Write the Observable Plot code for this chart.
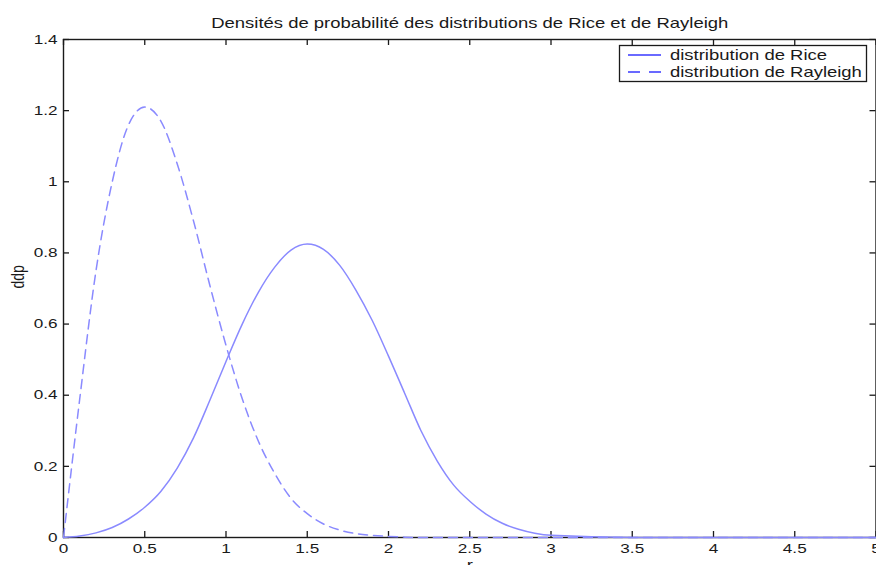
<!DOCTYPE html>
<html><head><meta charset="utf-8">
<script src="https://cdn.jsdelivr.net/npm/d3@7"></script>
<script src="https://cdn.jsdelivr.net/npm/@observablehq/plot@0.6"></script>
<style>
html,body{margin:0;padding:0;background:#fff;}
#chart{position:relative;width:876px;height:565px;overflow:hidden;}
</style></head><body><div id="chart"></div>
<script>
// ---- data ----
const rValues = [0,0.1,0.2,0.3,0.4,0.5,0.6,0.7,0.8,0.9,1.0,1.1,1.2,1.3,1.4,1.5,1.6,1.7,1.8,1.9,2.0,2.1,2.2,2.3,2.4,2.5,2.6,2.7,2.8,2.9,3.0,3.5,4.0,4.5,5.0];
const riceDensity = [0,0.004,0.013,0.028,0.052,0.085,0.13,0.195,0.28,0.385,0.495,0.6,0.69,0.76,0.808,0.825,0.81,0.765,0.695,0.61,0.51,0.405,0.3,0.215,0.148,0.102,0.066,0.04,0.023,0.012,0.006,0,0,0,0];
const rayleighDensity = [0,0.39,0.75,1.0,1.16,1.21,1.17,1.05,0.89,0.71,0.54,0.39,0.27,0.18,0.11,0.067,0.038,0.021,0.011,0.006,0.003,0.001,0,0,0,0,0,0,0,0,0,0,0,0,0];
const xTicks = [0,0.5,1,1.5,2,2.5,3,3.5,4,4.5,5];
const xTickLabels = ["0","0.5","1","1.5","2","2.5","3","3.5","4","4.5","5"];
const yTicks = [0,0.2,0.4,0.6,0.8,1,1.2,1.4];
const yTickLabels = ["0","0.2","0.4","0.6","0.8","1","1.2","1.4"];
const seriesNames = ["distribution de Rice","distribution de Rayleigh"];
const titleText = "Densités de probabilité des distributions de Rice et de Rayleigh";
const xLabel = "r";
const yLabel = "ddp";

// ---- layout / style ----
const W = 876, H = 565, mL = 63, mR = 0.5, mT = 39, mB = 28;
const plotW = W - mL - mR, plotH = H - mT - mB;
const ink = "#1a1a1a";
const curveColor = "#8a8aff";
const legendColor = "#3838ff";
const stretch = 1.32;

const table = rValues.map((r, i) => ({r, rice: riceDensity[i], rayleigh: rayleighDensity[i]}));

const chart = Plot.plot({
  width: W, height: H,
  marginLeft: mL, marginRight: mR, marginTop: mT, marginBottom: mB,
  style: {fontFamily: "'Liberation Sans', Arial, sans-serif", fontSize: "13px", color: ink, background: "#fff"},
  x: {domain: [0, 5]},
  y: {domain: [0, 1.4]},
  marks: [
    Plot.axisX(xTicks, {tickSize: 0, tickPadding: 6, tickFormat: d => xTickLabels[xTicks.indexOf(d)], label: null, fontSize: 13, fill: ink}),
    Plot.axisY(yTicks, {tickSize: 0, tickPadding: 6, tickFormat: d => yTickLabels[yTicks.indexOf(d)], label: null, fontSize: 13, fill: ink}),
    Plot.tickX(xTicks, {x: d => d, insetTop: plotH - 6, stroke: ink, strokeWidth: 1.3}),
    Plot.tickX(xTicks, {x: d => d, insetBottom: plotH - 6, stroke: ink, strokeWidth: 1.3}),
    Plot.tickY(yTicks, {y: d => d, insetRight: plotW - 6, stroke: ink, strokeWidth: 1.3}),
    Plot.tickY(yTicks, {y: d => d, insetLeft: plotW - 6, stroke: ink, strokeWidth: 1.3}),
    Plot.frame({stroke: ink, strokeWidth: 1.4}),
    Plot.lineY(table, {x: "r", y: "rice", stroke: curveColor, strokeWidth: 1.5, curve: "monotone-x"}),
    Plot.lineY(table, {x: "r", y: "rayleigh", stroke: curveColor, strokeWidth: 1.5, strokeDasharray: "9,6", curve: "monotone-x"}),
    Plot.text([titleText], {frameAnchor: "top", dy: -12, lineAnchor: "bottom", fontSize: 14, fill: ink}),
    Plot.text([yLabel], {frameAnchor: "left", dx: -45, rotate: -90, fontSize: 14, fill: ink}),
    Plot.text([xLabel], {frameAnchor: "bottom", dy: 32, lineAnchor: "bottom", fontSize: 14, fill: ink})
  ]
});

// legend
const svg = d3.select(chart);
const lg = svg.append("g").attr("text-anchor", "start");
lg.append("rect").attr("x", 619.5).attr("y", 45.5).attr("width", 247).attr("height", 36)
  .attr("fill", "#fff").attr("stroke", ink).attr("stroke-width", 1.3);
[0, 1].forEach(i => {
  const cy = 55 + i * 17;
  lg.append("line").attr("x1", 628).attr("x2", 661).attr("y1", cy).attr("y2", cy)
    .attr("stroke", legendColor).attr("stroke-width", 1.5)
    .attr("stroke-dasharray", i ? "12,9" : null);
  lg.append("text").attr("transform", `translate(670,${cy + 5})`)
    .attr("text-anchor", "start")
    .attr("font-size", 14).attr("fill", ink).text(seriesNames[i]);
});

// the reference picture is stretched horizontally: stretch glyphs likewise
chart.querySelectorAll("text").forEach(t => {
  const tr = t.getAttribute("transform");
  if (!tr) return;
  t.setAttribute("transform", tr + (/rotate/.test(tr) ? ` scale(1,${stretch})` : ` scale(${stretch},1)`));
});

document.getElementById("chart").appendChild(chart);
</script>
</body></html>
